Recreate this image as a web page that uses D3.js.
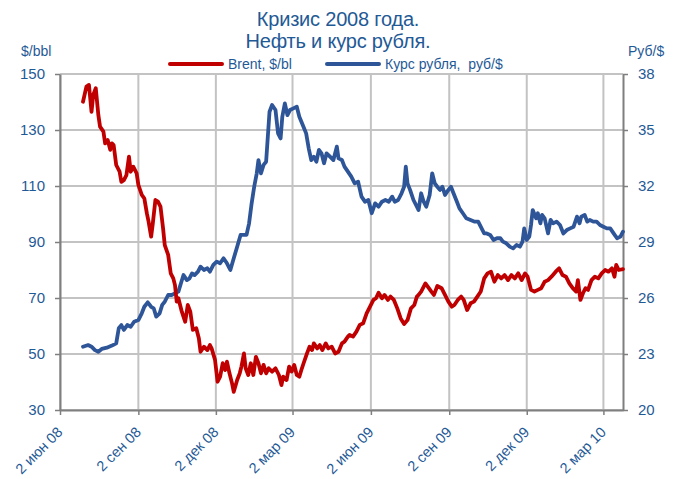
<!DOCTYPE html>
<html>
<head>
<meta charset="utf-8">
<script src="https://cdn.jsdelivr.net/npm/d3@7"></script>
<style>
  body { margin: 0; background: #fff; }
  svg { font-family: "Liberation Sans", Arial, sans-serif; }
</style>
</head>
<body>
<svg></svg>
<script>
const width = 681;
const height = 479;

// tick positions / labels
const xTickDates = ["2008-06-02", "2008-09-02", "2008-12-02", "2009-03-02", "2009-06-02", "2009-09-02", "2009-12-02", "2010-03-02"];
const xTickLabels = ["2 июн 08", "2 сен 08", "2 дек 08", "2 мар 09", "2 июн 09", "2 сен 09", "2 дек 09", "2 мар 10"];
const leftTicks = [30, 50, 70, 90, 110, 130, 150];
const rightTicks = [20, 23, 26, 29, 32, 35, 38];

// Brent, $/bl
const brent = [
  ["2008-06-29", 140.1], ["2008-07-03", 145.5], ["2008-07-06", 146.1], ["2008-07-09", 136.5],
  ["2008-07-11", 142.5], ["2008-07-14", 144.9], ["2008-07-17", 135.4], ["2008-07-19", 131.2],
  ["2008-07-23", 129.4], ["2008-07-25", 125.2], ["2008-07-28", 126.4], ["2008-07-31", 122.9],
  ["2008-08-02", 125.2], ["2008-08-04", 124.6], ["2008-08-07", 117.5], ["2008-08-11", 115.1],
  ["2008-08-13", 111.5], ["2008-08-16", 112.1], ["2008-08-19", 113.9], ["2008-08-22", 120.5],
  ["2008-08-24", 115.1], ["2008-08-27", 116.9], ["2008-08-31", 114.5], ["2008-09-02", 110.4],
  ["2008-09-06", 106.8], ["2008-09-09", 105.6], ["2008-09-12", 100.2], ["2008-09-14", 97.3],
  ["2008-09-17", 91.9], ["2008-09-19", 96.7], ["2008-09-22", 105.0], ["2008-09-25", 104.4],
  ["2008-09-28", 102.6], ["2008-10-01", 94.9], ["2008-10-03", 88.9], ["2008-10-07", 85.4],
  ["2008-10-10", 78.8], ["2008-10-13", 77.0], ["2008-10-15", 74.6], ["2008-10-17", 68.7],
  ["2008-10-19", 69.9], ["2008-10-23", 65.1], ["2008-10-27", 61.5], ["2008-10-30", 67.5],
  ["2008-11-02", 65.1], ["2008-11-05", 58.6], ["2008-11-09", 59.2], ["2008-11-12", 55.6],
  ["2008-11-14", 50.8], ["2008-11-18", 52.6], ["2008-11-22", 51.4], ["2008-11-25", 53.2],
  ["2008-11-27", 52.0], ["2008-12-01", 47.9], ["2008-12-04", 40.1], ["2008-12-07", 41.9],
  ["2008-12-10", 46.7], ["2008-12-13", 44.3], ["2008-12-15", 47.3], ["2008-12-18", 43.1],
  ["2008-12-21", 39.5], ["2008-12-23", 36.5], ["2008-12-27", 40.7], ["2008-12-30", 43.1],
  ["2009-01-01", 45.5], ["2009-01-04", 50.2], ["2009-01-06", 44.9], ["2009-01-09", 42.5],
  ["2009-01-12", 46.7], ["2009-01-15", 42.5], ["2009-01-18", 49.0], ["2009-01-21", 46.7],
  ["2009-01-24", 43.1], ["2009-01-27", 46.1], ["2009-01-30", 43.1], ["2009-02-02", 44.9],
  ["2009-02-06", 43.7], ["2009-02-10", 44.9], ["2009-02-14", 42.5], ["2009-02-17", 38.9],
  ["2009-02-19", 41.9], ["2009-02-23", 40.7], ["2009-02-26", 45.5], ["2009-03-01", 43.7],
  ["2009-03-04", 46.1], ["2009-03-07", 42.5], ["2009-03-10", 41.9], ["2009-03-13", 44.9],
  ["2009-03-15", 46.7], ["2009-03-19", 50.2], ["2009-03-22", 52.6], ["2009-03-25", 51.4],
  ["2009-03-27", 53.8], ["2009-03-31", 52.0], ["2009-04-03", 53.2], ["2009-04-06", 51.4],
  ["2009-04-10", 53.8], ["2009-04-13", 52.0], ["2009-04-17", 52.6], ["2009-04-21", 50.2],
  ["2009-04-25", 50.8], ["2009-04-29", 53.8], ["2009-05-02", 54.4], ["2009-05-06", 56.2],
  ["2009-05-08", 56.8], ["2009-05-12", 56.2], ["2009-05-16", 58.0], ["2009-05-20", 60.4],
  ["2009-05-24", 61.0], ["2009-05-28", 64.5], ["2009-06-01", 66.9], ["2009-06-05", 69.3],
  ["2009-06-08", 69.9], ["2009-06-11", 71.9], ["2009-06-15", 69.9], ["2009-06-18", 71.1],
  ["2009-06-22", 69.3], ["2009-06-25", 70.5], ["2009-06-29", 69.3], ["2009-07-03", 66.3],
  ["2009-07-07", 62.7], ["2009-07-11", 60.7], ["2009-07-15", 62.1], ["2009-07-19", 66.3],
  ["2009-07-23", 67.5], ["2009-07-26", 70.5], ["2009-07-28", 71.1], ["2009-07-31", 72.3],
  ["2009-08-05", 75.2], ["2009-08-08", 74.0], ["2009-08-12", 72.3], ["2009-08-15", 71.1],
  ["2009-08-19", 74.3], ["2009-08-24", 73.5], ["2009-08-28", 71.1], ["2009-09-01", 68.7],
  ["2009-09-05", 66.9], ["2009-09-08", 67.5], ["2009-09-12", 69.3], ["2009-09-16", 70.5],
  ["2009-09-19", 69.3], ["2009-09-23", 65.7], ["2009-09-27", 68.1], ["2009-10-01", 68.7],
  ["2009-10-05", 70.5], ["2009-10-09", 72.3], ["2009-10-13", 77.0], ["2009-10-17", 78.8],
  ["2009-10-21", 79.4], ["2009-10-25", 75.8], ["2009-10-29", 78.2], ["2009-11-02", 77.0],
  ["2009-11-06", 78.2], ["2009-11-10", 76.4], ["2009-11-14", 78.2], ["2009-11-18", 77.0],
  ["2009-11-22", 78.8], ["2009-11-26", 76.4], ["2009-11-30", 78.8], ["2009-12-03", 77.6],
  ["2009-12-07", 72.9], ["2009-12-11", 72.3], ["2009-12-15", 72.9], ["2009-12-19", 73.5],
  ["2009-12-23", 75.8], ["2009-12-27", 76.4], ["2009-12-31", 77.6], ["2010-01-05", 79.4],
  ["2010-01-09", 80.6], ["2010-01-13", 78.2], ["2010-01-17", 77.6], ["2010-01-21", 75.2],
  ["2010-01-25", 73.5], ["2010-01-29", 72.3], ["2010-01-31", 76.4], ["2010-02-03", 69.3],
  ["2010-02-06", 71.7], ["2010-02-09", 73.5], ["2010-02-12", 72.9], ["2010-02-16", 76.4],
  ["2010-02-20", 77.6], ["2010-02-24", 77.0], ["2010-02-28", 78.8], ["2010-03-04", 80.0],
  ["2010-03-08", 79.4], ["2010-03-12", 80.6], ["2010-03-15", 77.6], ["2010-03-17", 81.8],
  ["2010-03-20", 80.0], ["2010-03-25", 80.3]
];

// Курс рубля, руб/$
const rub = [
  ["2008-06-29", 23.39], ["2008-07-05", 23.48], ["2008-07-09", 23.39], ["2008-07-13", 23.21],
  ["2008-07-17", 23.12], ["2008-07-21", 23.27], ["2008-07-27", 23.34], ["2008-08-02", 23.45],
  ["2008-08-07", 23.57], ["2008-08-10", 24.38], ["2008-08-13", 24.55], ["2008-08-16", 24.29],
  ["2008-08-20", 24.55], ["2008-08-24", 24.46], ["2008-08-28", 24.73], ["2008-09-02", 24.82],
  ["2008-09-06", 25.18], ["2008-09-09", 25.53], ["2008-09-13", 25.77], ["2008-09-17", 25.53],
  ["2008-09-20", 25.45], ["2008-09-23", 25.00], ["2008-09-27", 25.18], ["2008-09-30", 25.63],
  ["2008-10-03", 25.80], ["2008-10-07", 26.16], ["2008-10-11", 26.16], ["2008-10-15", 26.25],
  ["2008-10-19", 26.34], ["2008-10-22", 26.79], ["2008-10-25", 27.23], ["2008-10-29", 26.96],
  ["2008-11-01", 27.05], ["2008-11-04", 27.32], ["2008-11-07", 27.23], ["2008-11-11", 27.41],
  ["2008-11-14", 27.68], ["2008-11-18", 27.50], ["2008-11-22", 27.59], ["2008-11-25", 27.41],
  ["2008-11-29", 27.77], ["2008-12-03", 27.95], ["2008-12-07", 27.86], ["2008-12-11", 28.13],
  ["2008-12-15", 27.86], ["2008-12-19", 27.50], ["2008-12-23", 28.13], ["2008-12-27", 28.75],
  ["2008-12-31", 29.38], ["2009-01-07", 29.38], ["2009-01-10", 30.00], ["2009-01-13", 31.07],
  ["2009-01-16", 31.96], ["2009-01-19", 32.68], ["2009-01-21", 33.39], ["2009-01-24", 32.68],
  ["2009-01-27", 33.13], ["2009-01-30", 33.30], ["2009-02-01", 34.64], ["2009-02-03", 35.98],
  ["2009-02-06", 36.34], ["2009-02-10", 36.07], ["2009-02-13", 34.82], ["2009-02-16", 34.55],
  ["2009-02-18", 35.71], ["2009-02-21", 36.43], ["2009-02-24", 35.80], ["2009-02-27", 36.07],
  ["2009-03-03", 36.16], ["2009-03-07", 36.25], ["2009-03-10", 35.71], ["2009-03-14", 35.27],
  ["2009-03-18", 34.82], ["2009-03-21", 34.02], ["2009-03-24", 33.39], ["2009-03-27", 33.57],
  ["2009-03-30", 33.30], ["2009-04-02", 33.93], ["2009-04-05", 33.75], ["2009-04-08", 33.22],
  ["2009-04-11", 33.75], ["2009-04-15", 33.57], ["2009-04-19", 33.39], ["2009-04-23", 34.11],
  ["2009-04-25", 33.48], ["2009-04-29", 33.39], ["2009-05-02", 33.04], ["2009-05-06", 32.77],
  ["2009-05-10", 32.50], ["2009-05-14", 32.14], ["2009-05-18", 32.23], ["2009-05-22", 31.43],
  ["2009-05-26", 31.16], ["2009-05-30", 31.25], ["2009-06-03", 30.54], ["2009-06-07", 31.07],
  ["2009-06-11", 30.89], ["2009-06-15", 31.16], ["2009-06-19", 31.25], ["2009-06-23", 31.16],
  ["2009-06-27", 31.43], ["2009-06-30", 31.16], ["2009-07-04", 31.25], ["2009-07-08", 31.61],
  ["2009-07-11", 31.96], ["2009-07-13", 33.04], ["2009-07-15", 32.14], ["2009-07-18", 31.79],
  ["2009-07-22", 31.25], ["2009-07-26", 30.89], ["2009-07-28", 30.71], ["2009-07-31", 31.61],
  ["2009-08-03", 31.16], ["2009-08-06", 30.89], ["2009-08-10", 31.52], ["2009-08-13", 32.68],
  ["2009-08-16", 32.14], ["2009-08-19", 31.96], ["2009-08-22", 31.79], ["2009-08-25", 31.96],
  ["2009-08-28", 31.52], ["2009-09-01", 31.79], ["2009-09-04", 31.96], ["2009-09-07", 31.61],
  ["2009-09-11", 31.16], ["2009-09-14", 30.80], ["2009-09-18", 30.54], ["2009-09-22", 30.27],
  ["2009-09-27", 30.18], ["2009-10-02", 30.09], ["2009-10-06", 30.09], ["2009-10-10", 29.73],
  ["2009-10-13", 29.46], ["2009-10-16", 29.46], ["2009-10-20", 29.38], ["2009-10-24", 29.11],
  ["2009-10-28", 29.20], ["2009-11-01", 29.20], ["2009-11-04", 29.02], ["2009-11-08", 28.93],
  ["2009-11-12", 28.75], ["2009-11-16", 28.66], ["2009-11-20", 28.84], ["2009-11-24", 28.75],
  ["2009-11-27", 29.02], ["2009-11-29", 29.73], ["2009-12-02", 29.11], ["2009-12-05", 29.29],
  ["2009-12-07", 29.91], ["2009-12-09", 30.71], ["2009-12-13", 30.27], ["2009-12-15", 30.54],
  ["2009-12-18", 30.00], ["2009-12-20", 30.45], ["2009-12-23", 30.27], ["2009-12-27", 29.46],
  ["2009-12-30", 30.18], ["2010-01-02", 30.00], ["2010-01-06", 30.09], ["2010-01-10", 29.91],
  ["2010-01-14", 29.46], ["2010-01-18", 29.64], ["2010-01-22", 29.73], ["2010-01-26", 29.82],
  ["2010-01-30", 30.36], ["2010-02-02", 30.00], ["2010-02-04", 30.36], ["2010-02-08", 30.45],
  ["2010-02-11", 30.09], ["2010-02-14", 30.18], ["2010-02-18", 30.09], ["2010-02-22", 30.09],
  ["2010-02-26", 29.91], ["2010-03-02", 29.82], ["2010-03-06", 29.73], ["2010-03-10", 29.73],
  ["2010-03-14", 29.46], ["2010-03-18", 29.20], ["2010-03-22", 29.29], ["2010-03-25", 29.55]
];

const parse = d3.timeParse("%Y-%m-%d");
const textColor = "#1f5a96";
const gridColor = "#c3c3c3";
const axisColor = "#7f7f7f";

const svg = d3.select("svg")
    .attr("width", width)
    .attr("height", height);

const x = d3.scaleTime()
    .domain([parse("2008-06-02"), parse("2010-03-25")])
    .range([60, 623]);
const yL = d3.scaleLinear().domain([30, 150]).range([410, 74]);
const yR = d3.scaleLinear().domain([20, 38]).range([410, 74]);

// gridlines
const grid = svg.append("g").attr("class", "grid");
grid.selectAll("line.h")
    .data(leftTicks)
    .enter().append("line")
    .attr("x1", 60).attr("x2", 623)
    .attr("y1", d => yL(d)).attr("y2", d => yL(d))
    .attr("stroke", gridColor).attr("stroke-width", 2);
grid.selectAll("line.v")
    .data(xTickDates)
    .enter().append("line")
    .attr("x1", d => x(parse(d))).attr("x2", d => x(parse(d)))
    .attr("y1", 74).attr("y2", 410)
    .attr("stroke", gridColor).attr("stroke-width", 2);

// axes
function styleAxis(g) {
    g.select(".domain").attr("stroke", axisColor).attr("stroke-width", 2);
    g.selectAll(".tick line").attr("stroke", axisColor).attr("stroke-width", 1.5);
    g.selectAll(".tick text").attr("fill", textColor).attr("font-size", 15)
        .attr("font-family", "Liberation Sans, Arial, sans-serif");
}

svg.append("g")
    .attr("transform", "translate(60,0)")
    .call(d3.axisLeft(yL).tickValues(leftTicks).tickSize(5).tickSizeOuter(0).tickPadding(10))
    .call(styleAxis);

svg.append("g")
    .attr("transform", "translate(623,0)")
    .call(d3.axisRight(yR).tickValues(rightTicks).tickSize(5).tickSizeOuter(0).tickPadding(10))
    .call(styleAxis);

const xAxis = svg.append("g")
    .attr("transform", "translate(0,410)")
    .call(d3.axisBottom(x)
        .tickValues(xTickDates.map(parse))
        .tickFormat((d, i) => xTickLabels[i])
        .tickSize(5).tickSizeOuter(0))
    .call(styleAxis);

xAxis.selectAll(".tick text")
    .attr("font-size", 14.5)
    .attr("text-anchor", "end")
    .attr("x", 0).attr("y", 0).attr("dy", 0)
    .attr("transform", "translate(3,23) rotate(-45)");

// lines
const lineL = d3.line().x(d => x(parse(d[0]))).y(d => yL(d[1]));
const lineR = d3.line().x(d => x(parse(d[0]))).y(d => yR(d[1]));

svg.append("path")
    .datum(rub)
    .attr("d", lineR)
    .attr("fill", "none")
    .attr("stroke", "#2e5597")
    .attr("stroke-width", 3.8)
    .attr("stroke-linejoin", "round")
    .attr("stroke-linecap", "round");

svg.append("path")
    .datum(brent)
    .attr("d", lineL)
    .attr("fill", "none")
    .attr("stroke", "#c00000")
    .attr("stroke-width", 3.8)
    .attr("stroke-linejoin", "round")
    .attr("stroke-linecap", "round");

// title
svg.append("text")
    .attr("x", 338).attr("y", 26)
    .attr("text-anchor", "middle")
    .attr("font-size", 20).attr("letter-spacing", -0.2)
    .attr("fill", textColor)
    .text("Кризис 2008 года.");
svg.append("text")
    .attr("x", 338).attr("y", 48)
    .attr("text-anchor", "middle")
    .attr("font-size", 20).attr("letter-spacing", -0.2)
    .attr("fill", textColor)
    .text("Нефть и курс рубля.");

// axis units
svg.append("text")
    .attr("x", 21).attr("y", 56)
    .attr("font-size", 14).attr("fill", textColor)
    .text("$/bbl");
svg.append("text")
    .attr("x", 628).attr("y", 56)
    .attr("font-size", 14).attr("fill", textColor)
    .text("Руб/$");

// legend
const legend = [
    { label: "Brent, $/bl", color: "#c00000", x: 170 },
    { label: "Курс рубля,  руб/$", color: "#2e5597", x: 327 }
];
const lg = svg.append("g").selectAll("g")
    .data(legend)
    .enter().append("g")
    .attr("transform", d => `translate(${d.x},64)`);
lg.append("line")
    .attr("x1", 0).attr("x2", 52)
    .attr("stroke", d => d.color)
    .attr("stroke-width", 4)
    .attr("stroke-linecap", "round");
lg.append("text")
    .attr("x", 58).attr("y", 5)
    .attr("font-size", 14).attr("fill", textColor)
    .style("white-space", "pre")
    .text(d => d.label);
</script>
</body>
</html>
